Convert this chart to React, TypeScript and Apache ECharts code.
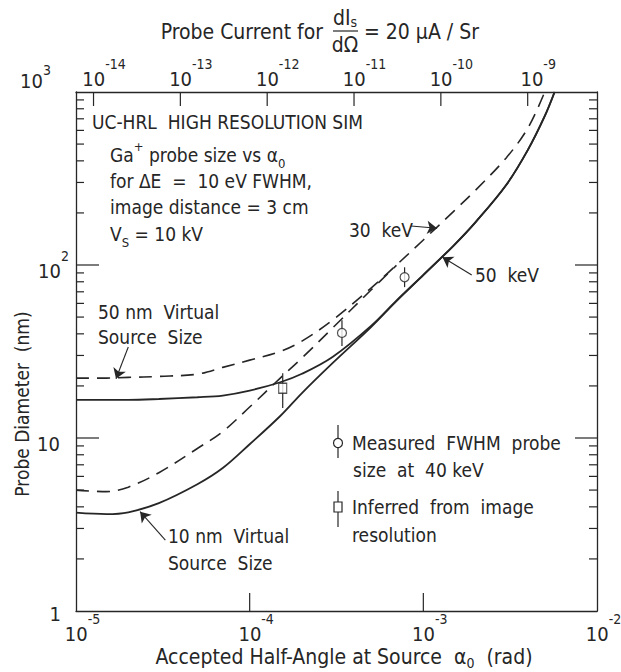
import React, { useEffect, useRef } from "react";
import * as echarts from "echarts";

const FONT = "'DejaVu Sans Condensed', 'Liberation Sans Narrow', 'DejaVu Sans', sans-serif";
const INK = "#262626";

// bottom axis: accepted half-angle at source (rad)
const ALPHA_MIN = 1e-5;
const ALPHA_MAX = 1e-2;
const ALPHA_TICKS = [1e-4, 1e-3];
const ALPHA_LABELS = [1e-5, 1e-4, 1e-3, 1e-2];

// left / right axis: probe diameter (nm)
const D_MIN = 1;
const D_MAX = 1000;
const D_MAJOR_TICKS = [10, 100];
const D_MINOR_TICKS = [2, 3, 4, 5, 6, 7, 8, 9, 20, 30, 40, 50, 60, 70, 80, 90, 200, 300, 400, 500, 600, 700, 800, 900];
const D_LABELS = [1, 10, 100, 1000];

// top axis: probe current for dIs/dΩ = 20 µA/Sr  (I = dI/dΩ · π α²)
const ANGULAR_INTENSITY = 20e-6;
const CURRENT_EXPONENTS = [-14, -13, -12, -11, -10, -9];

// curves
const ALPHA = [1e-5, 1.5e-5, 2e-5, 3e-5, 5e-5, 7e-5, 1e-4, 1.5e-4, 2e-4, 3e-4, 5e-4, 7e-4, 1e-3, 1.5e-3, 2e-3, 3e-3, 4e-3];
const D_50KEV_10NM = [3.7, 3.63, 3.72, 4.2, 5.4, 6.7, 9.2, 13.4, 18.2, 27.1, 43.8, 61.9, 87.5, 130, 177, 290, 463];
const D_50KEV_50NM = [16.6, 16.6, 16.6, 16.8, 17.2, 17.6, 18.8, 21.0, 23.5, 29.4, 44.5, 62.3, 87.7, 130, 177, 290, 463];
const TAIL_50KEV = [[5e-3, 725], [5.7e-3, 1000]];
const D_30KEV_10NM = [5.0, 4.9, 5.2, 6.3, 8.7, 10.9, 15.1, 22.2, 29.0, 43.2, 71.7, 99.5];
const D_30KEV_50NM = [22.2, 22.2, 22.4, 22.7, 23.4, 25.6, 28.2, 31.6, 36.3, 48, 73.6, 100, 139.5, 205, 271, 416, 619];
const TAIL_30KEV = [[5e-3, 1000]];

// measured points
const MEASURED_ALPHA = [3.4e-4, 7.8e-4];
const MEASURED_D = [40.5, 85];
const MEASURED_LOW = [34, 74.5];
const MEASURED_HIGH = [48, 97];
const INFERRED_ALPHA = [1.55e-4];
const INFERRED_D = [19.4];
const INFERRED_LOW = [14.9];
const INFERRED_HIGH = [23.7];

// annotation arrows (data coordinates: from -> to)
const ARROWS = [
  { from: [2.0e-5, 33.6], to: [1.7e-5, 22.0], curve: 0 },
  { from: [8.5e-4, 168], to: [1.2e-3, 163], curve: 0 },
  { from: [1.9e-3, 87.5], to: [1.29e-3, 111], curve: -0.25 },
  { from: [3.27e-5, 2.57], to: [2.34e-5, 3.75], curve: 0.2 },
];

function pairs(xs: number[], ys: number[], tail: number[][] = []) {
  return ys.map((y, i) => [xs[i], y]).concat(tail);
}

const axisLine = { show: true, lineStyle: { color: INK, width: 1.3 } };

const richBase = {
  b: { fontSize: 20, lineHeight: 26, verticalAlign: "bottom", fontFamily: FONT, color: INK },
  s: { fontSize: 14, lineHeight: 14, verticalAlign: "top", fontFamily: FONT, color: INK },
};

export default function App() {
  const ref = useRef<HTMLDivElement>(null);
  useEffect(() => {
    if (!ref.current) return;
    const chart = echarts.init(ref.current, undefined, { renderer: "svg" });
    const iMin = Math.log10(ANGULAR_INTENSITY * Math.PI * ALPHA_MIN * ALPHA_MIN);
    const iMax = Math.log10(ANGULAR_INTENSITY * Math.PI * ALPHA_MAX * ALPHA_MAX);
    // half-angle at which the probe current equals 10^n A
    const currentTickAlpha = CURRENT_EXPONENTS.map((n) => Math.sqrt(Math.pow(10, n) / (ANGULAR_INTENSITY * Math.PI)));

    const tickRows = [
      ...D_MAJOR_TICKS.map((v) => [ALPHA_MIN, v, 0]),
      ...D_MINOR_TICKS.map((v) => [ALPHA_MIN, v, 1]),
      ...ALPHA_TICKS.map((v) => [v, D_MIN, 2]),
      ...currentTickAlpha.map((a) => [a, D_MAX, 3]),
    ];

    const text = (x: number, y: number, t: string, align = "left", extra: any = {}, size = 19) => ({
      type: "text",
      x,
      y,
      silent: true,
      style: {
        text: t,
        font: `${size}px ${FONT}`,
        fill: INK,
        align,
        verticalAlign: "middle",
        textAlign: align,
        textVerticalAlign: "middle",
        ...extra,
      },
    });
    const rt = { fontSize: 19, fontFamily: FONT, fill: INK };
    const rsup = { fontSize: 13, fontFamily: FONT, fill: INK, verticalAlign: "top", lineHeight: 13 };
    const rsub = { fontSize: 13, fontFamily: FONT, fill: INK, verticalAlign: "bottom", lineHeight: 13 };
    const richTxt = { t: { ...rt, lineHeight: 30, verticalAlign: "middle" }, sup: rsup, sub: rsub };
    const richTitle = {
      t: { fontSize: 21, fontFamily: FONT, fill: INK, lineHeight: 26, verticalAlign: "middle" },
      sub: { fontSize: 14, fontFamily: FONT, fill: INK, verticalAlign: "bottom", lineHeight: 16 },
    };

    const line = (x1: number, y1: number, x2: number, y2: number) => ({
      type: "line",
      silent: true,
      shape: { x1, y1, x2, y2 },
      style: { stroke: INK, lineWidth: 1.2 },
    });

    const option: any = {
      animation: false,
      backgroundColor: "#ffffff",
      textStyle: { fontFamily: FONT, color: INK },
      grid: { left: 76, right: 24, top: 92, bottom: 61, containLabel: false, outerBoundsMode: "none" },
      xAxis: [
        {
          type: "log",
          logBase: 10,
          min: ALPHA_MIN,
          max: ALPHA_MAX,
          position: "bottom",
          axisLine,
          axisTick: { show: false },
          minorTick: { show: false },
          splitLine: { show: false },
          axisLabel: {
            customValues: ALPHA_LABELS,
            margin: 1,
            formatter: (v: number) => `{sp| }{b|10}{s|${Math.round(Math.log10(v))}}`,
            rich: { ...richBase, sp: { width: 13, lineHeight: 32 } },
          },
        },
        {
          type: "value",
          min: iMin,
          max: iMax,
          position: "top",
          axisLine,
          axisTick: { show: false },
          splitLine: { show: false },
          axisLabel: {
            customValues: CURRENT_EXPONENTS,
            margin: 3,
            formatter: (v: number) => `{sp| }{b|10}{s|${Math.round(v)}}`,
            rich: { ...richBase, sp: { width: 21, lineHeight: 32 } },
          },
        },
      ],
      yAxis: [
        {
          type: "log",
          logBase: 10,
          min: D_MIN,
          max: D_MAX,
          position: "left",
          axisLine,
          axisTick: { show: false },
          minorTick: { show: false },
          splitLine: { show: false },
          axisLabel: {
            customValues: D_LABELS,
            margin: 7,
            formatter: (v: number) => {
              const e = Math.round(Math.log10(v));
              if (e === 3) return `{sp3| }{b3|10}{s3|3}{pr3| }`;
              if (e === 2) return `{sp| }{b|10}{s|2}`;
              if (e === 1) return `{sp| }{b|10}{pr| }`;
              return `{sp1| }{b|1}{pr1| }`;
            },
            rich: {
              ...richBase,
              sp: { width: 1, lineHeight: 32 },
              sp1: { width: 1, lineHeight: 24 },
              pr: { width: 9 },
              pr1: { width: 8 },
              sp3: { width: 1, lineHeight: 58 },
              b3: { fontSize: 20, lineHeight: 26, verticalAlign: "top", padding: [8, 0, 0, 0], fontFamily: FONT, color: INK },
              s3: { fontSize: 14, lineHeight: 14, verticalAlign: "top", fontFamily: FONT, color: INK },
              pr3: { width: 18 },
            },
          },
        },
        {
          type: "log",
          logBase: 10,
          min: D_MIN,
          max: D_MAX,
          position: "right",
          axisLine,
          axisTick: { show: false },
          minorTick: { show: false },
          splitLine: { show: false },
          axisLabel: { show: false },
        },
      ],
      series: [
        {
          type: "custom",
          name: "axis ticks",
          silent: true,
          clip: false,
          z: 1,
          encode: { x: 0, y: 1 },
          data: tickRows,
          renderItem: (params: any, api: any) => {
            const cs = params.coordSys;
            const kind = api.value(2);
            const p = api.coord([api.value(0), api.value(1)]);
            const st = { stroke: INK, lineWidth: 1.2 };
            if (kind === 0 || kind === 1) {
              const l = kind === 0 ? 23 : 8;
              const r = kind === 0 ? 22 : 8;
              return {
                type: "group",
                children: [
                  { type: "line", shape: { x1: cs.x, y1: p[1], x2: cs.x + l, y2: p[1] }, style: st },
                  { type: "line", shape: { x1: cs.x + cs.width - r, y1: p[1], x2: cs.x + cs.width, y2: p[1] }, style: st },
                ],
              };
            }
            if (kind === 2) {
              return { type: "line", shape: { x1: p[0], y1: cs.y + cs.height, x2: p[0], y2: cs.y + cs.height - 18 }, style: st };
            }
            return { type: "line", shape: { x1: p[0], y1: cs.y, x2: p[0], y2: cs.y + 14 }, style: st };
          },
        },
        {
          type: "line",
          name: "50 keV, 10 nm source",
          data: pairs(ALPHA, D_50KEV_10NM, TAIL_50KEV),
          symbol: "none",
          smooth: 0.35,
          lineStyle: { color: INK, width: 1.8 },
          z: 2,
          silent: true,
          markLine: {
            silent: true,
            symbol: ["none", "arrow"],
            symbolSize: 10,
            label: { show: false },
            lineStyle: { color: INK, width: 1.1, type: "solid" },
            data: ARROWS.map((a) => [
              { coord: a.from, lineStyle: { curveness: a.curve } },
              { coord: a.to },
            ]),
          },
        },
        {
          type: "line",
          name: "50 keV, 50 nm source",
          data: pairs(ALPHA, D_50KEV_50NM, TAIL_50KEV),
          symbol: "none",
          smooth: 0.35,
          lineStyle: { color: INK, width: 1.8 },
          z: 2,
          silent: true,
        },
        {
          type: "line",
          name: "30 keV, 10 nm source",
          data: pairs(ALPHA, D_30KEV_10NM),
          symbol: "none",
          smooth: 0.35,
          lineStyle: { color: INK, width: 1.6, type: [13, 8] },
          z: 2,
          silent: true,
        },
        {
          type: "line",
          name: "30 keV, 50 nm source",
          data: pairs(ALPHA, D_30KEV_50NM, TAIL_30KEV),
          symbol: "none",
          smooth: 0.35,
          lineStyle: { color: INK, width: 1.6, type: [13, 8] },
          z: 2,
          silent: true,
        },
        {
          type: "custom",
          name: "error bars",
          silent: true,
          z: 3,
          encode: { x: 0, y: [1, 2] },
          data: [
            ...MEASURED_ALPHA.map((a, i) => [a, MEASURED_LOW[i], MEASURED_HIGH[i]]),
            ...INFERRED_ALPHA.map((a, i) => [a, INFERRED_LOW[i], INFERRED_HIGH[i]]),
          ],
          renderItem: (params: any, api: any) => {
            const p1 = api.coord([api.value(0), api.value(1)]);
            const p2 = api.coord([api.value(0), api.value(2)]);
            return {
              type: "line",
              shape: { x1: p1[0], y1: p1[1], x2: p2[0], y2: p2[1] },
              style: { stroke: INK, lineWidth: 1.2 },
            };
          },
        },
        {
          type: "scatter",
          name: "Measured FWHM probe size at 40 keV",
          data: pairs(MEASURED_ALPHA, MEASURED_D),
          symbol: "circle",
          symbolSize: 9,
          itemStyle: { color: "#ffffff", borderColor: INK, borderWidth: 1.2 },
          z: 4,
          silent: true,
        },
        {
          type: "scatter",
          name: "Inferred from image resolution",
          data: pairs(INFERRED_ALPHA, INFERRED_D),
          symbol: "rect",
          symbolSize: [8, 10],
          itemStyle: { color: "#ffffff", borderColor: INK, borderWidth: 1.2 },
          z: 4,
          silent: true,
        },
      ],
      graphic: {
        elements: [
          // title
          text(323, 32, "Probe Current for", "right", {}, 21),
          text(345, 18, "{t|dI}{sub|s}", "center", { rich: { t: { ...richTitle.t, lineHeight: 22 }, sub: { ...richTitle.sub, lineHeight: 12 } } }),
          line(333, 31, 358, 31),
          text(345, 45, "dΩ", "center", {}, 21),
          text(364, 32, "= 20 μA / Sr", "left", {}, 21),
          // info block
          text(92, 122, "UC-HRL  HIGH RESOLUTION SIM"),
          text(110, 155, "{t|Ga}{sup|+}{t| probe size vs α}{sub|0}", "left", { rich: richTxt }),
          text(110, 181, "for ΔE  =  10 eV FWHM,"),
          text(110, 207, "image distance = 3 cm"),
          text(110, 234, "{t|V}{sub|S}{t| = 10 kV}", "left", { rich: richTxt }),
          // curve labels
          text(98, 312, "50 nm  Virtual"),
          text(98, 337, "Source  Size"),
          text(349, 230, "30  keV"),
          text(475, 275, "50  keV"),
          text(168, 536, "10 nm  Virtual"),
          text(168, 563, "Source  Size"),
          // legend
          line(338, 425, 338, 458),
          { type: "circle", silent: true, shape: { cx: 338, cy: 443, r: 4.5 }, style: { fill: "#fff", stroke: INK, lineWidth: 1.2 } },
          text(352, 443, "Measured  FWHM  probe"),
          text(353, 470, "size  at  40 keV"),
          line(338, 491, 338, 527),
          { type: "rect", silent: true, shape: { x: 334, y: 502, width: 8, height: 10 }, style: { fill: "#fff", stroke: INK, lineWidth: 1.2 } },
          text(352, 507, "Inferred  from  image"),
          text(352, 535, "resolution"),
          // axis titles
          { ...text(22, 404, "Probe Diameter  (nm)", "center"), rotation: Math.PI / 2 },
          text(344, 657, "{t|Accepted Half-Angle at Source  α}{sub|0}{t|  (rad)}", "center", { rich: richTitle }),
        ],
      },
    };
    chart.setOption(option);
    return () => chart.dispose();
  }, []);
  return <div ref={ref} style={{ position: "fixed", left: 0, top: 0, width: 621, height: 672, background: "#fff" }} />;
}
